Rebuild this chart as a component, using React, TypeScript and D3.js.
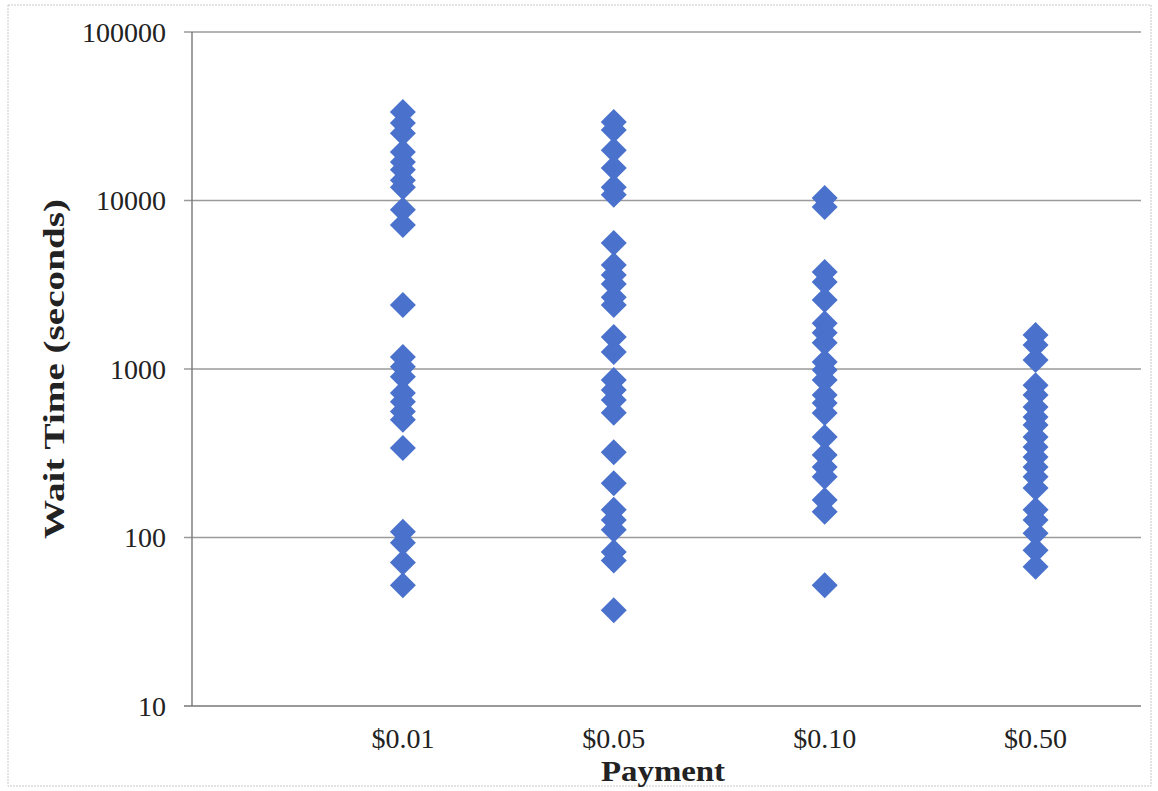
import React from "react";
import * as d3 from "d3";

const categories = ["$0.01", "$0.05", "$0.10", "$0.50"];
const yTicks = [10, 100, 1000, 10000, 100000];

const wait001 = [33500, 28800, 25100, 19400, 16900, 15200, 13200, 12000, 8800, 7150, 2400, 1180, 1030, 900, 720, 640, 560, 500, 340, 108, 93, 71, 52];
const wait005 = [29200, 26200, 19900, 15600, 12000, 10800, 5600, 4140, 3610, 3190, 2670, 2400, 1550, 1260, 860, 750, 655, 550, 321, 210, 146, 127, 111, 82, 73, 37];
const wait010 = [10350, 9150, 3770, 3280, 2570, 1870, 1640, 1430, 1100, 986, 860, 700, 628, 548, 395, 309, 262, 229, 167, 142, 52];
const wait050 = [1590, 1390, 1130, 800, 700, 594, 519, 466, 395, 344, 300, 262, 229, 197, 146, 127, 106, 84, 67];

const series = [wait001, wait005, wait010, wait050];

const W = 1158;
const H = 791;
const left = 192;
const right = 1141;
const top = 32;
const bottom = 706;

export default function App() {
  const x = d3.scaleLinear().domain([0, 4.5]).range([left, right]);
  const y = d3.scaleLog().domain([10, 100000]).range([bottom, top]);
  const r = 13;
  const diamond = (cx: number, cy: number) =>
    `M${cx},${cy - r}L${cx + r},${cy}L${cx},${cy + r}L${cx - r},${cy}Z`;
  const serif = "'Liberation Serif', 'Times New Roman', serif";

  return (
    <svg
      width={W}
      height={H}
      style={{ position: "absolute", left: 0, top: 0, background: "#fff" }}
      fontFamily={serif}
    >
      <rect x={8} y={5} width={1143} height={781} fill="none" stroke="#c8c8c8" strokeWidth={1} strokeDasharray="2,1" />
      {yTicks.map((t) => (
        <g key={t}>
          <line x1={left - 8} x2={right} y1={y(t)} y2={y(t)} stroke={t === 10 ? "#777" : "#9a9a9a"} strokeWidth={1.4} />
          <text x={166} y={y(t)} dy="0.35em" textAnchor="end" fontSize={28} fill="#222">
            {String(t)}
          </text>
        </g>
      ))}
      <line x1={left} x2={left} y1={top} y2={bottom} stroke="#777" strokeWidth={1.4} />
      {categories.map((c, i) => (
        <text key={c} x={x(i + 1)} y={748} textAnchor="middle" fontSize={28} fill="#222">
          {c}
        </text>
      ))}
      <text x={663} y={781} textAnchor="middle" fontSize={30} fontWeight="bold" fill="#222" textLength={124} lengthAdjust="spacingAndGlyphs">
        Payment
      </text>
      <text
        transform={`translate(64,${(top + bottom) / 2}) rotate(-90)`}
        textAnchor="middle"
        fontSize={30}
        fontWeight="bold"
        fill="#222"
        textLength={340}
        lengthAdjust="spacingAndGlyphs"
      >
        Wait Time (seconds)
      </text>
      {series.map((vals, i) => (
        <g key={i}>
          {vals.map((v, j) => (
            <path key={j} d={diamond(x(i + 1), y(v))} fill="#4a72cc" />
          ))}
        </g>
      ))}
    </svg>
  );
}
